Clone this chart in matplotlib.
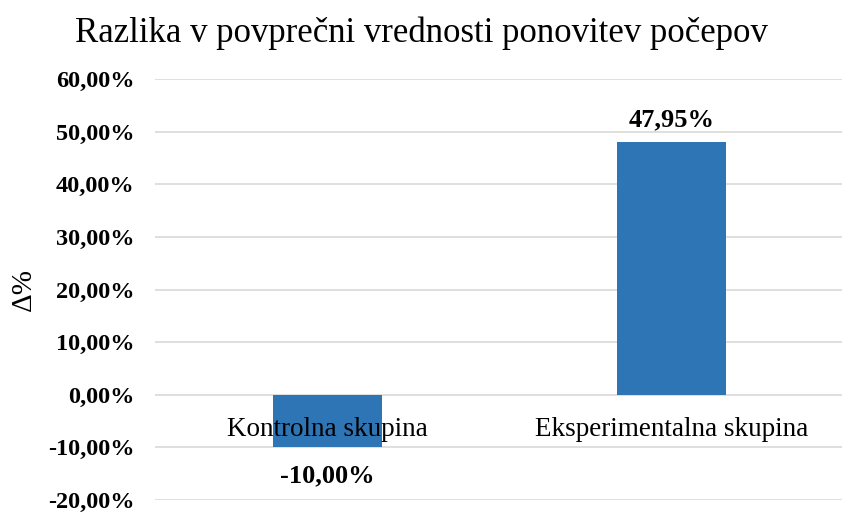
import matplotlib.pyplot as plt
from matplotlib.ticker import FuncFormatter

# Podatki
skupine = ["Kontrolna skupina", "Eksperimentalna skupina"]
razlika = [-10.00, 47.95]
y_ticks = [-20, -10, 0, 10, 20, 30, 40, 50, 60]

BAR_COLOR = "#2E75B6"
GRID_COLOR = "#D9D9D9"

plt.rcParams['font.family'] = ['Liberation Serif', 'DejaVu Serif']


def pct_comma(v, _pos=None):
    return f"{v:.2f}%".replace(".", ",")


fig = plt.figure(figsize=(8.42, 5.12), dpi=100)
ax = fig.add_axes([155 / 842, 12 / 512, 689 / 842, 421 / 512])

x = range(len(skupine))
bars = ax.bar(x, razlika, width=0.315, color=BAR_COLOR, zorder=2)

ax.set_ylim(-20, 60)
ax.set_xlim(-0.5, 1.5)
ax.set_yticks(y_ticks)
ax.yaxis.set_major_formatter(FuncFormatter(pct_comma))
ax.tick_params(axis='y', length=0, pad=15, labelsize=17.5)
for lab in ax.get_yticklabels():
    lab.set_fontweight('bold')
ax.set_xticks([])
ax.grid(axis='y', color=GRID_COLOR, linewidth=1.2, zorder=0)
for sp in ax.spines.values():
    sp.set_visible(False)

# oznake kategorij ob ničelni črti
for i, name in enumerate(skupine):
    ax.annotate(name, (i, 0), xytext=(0, -16), textcoords='offset points',
                ha='center', va='top', fontsize=19.5, zorder=3)

# vrednosti nad / pod stolpci
for bar, val in zip(bars, razlika):
    xc = bar.get_x() + bar.get_width() / 2
    off = 8 if val >= 0 else -12
    ax.annotate(pct_comma(val), (xc, val), xytext=(0, off), textcoords='offset points',
                ha='center', va='bottom' if val >= 0 else 'top',
                fontsize=19, fontweight='bold')

ax.set_ylabel("Δ%", fontsize=21)
ax.yaxis.set_label_coords(-155 / 689 + 37 / 689, 0.5)
fig.text(0.5, 0.935, "Razlika v povprečni vrednosti ponovitev počepov",
         ha='center', va='center', fontsize=25)

fig.savefig("out.png", dpi=100)
